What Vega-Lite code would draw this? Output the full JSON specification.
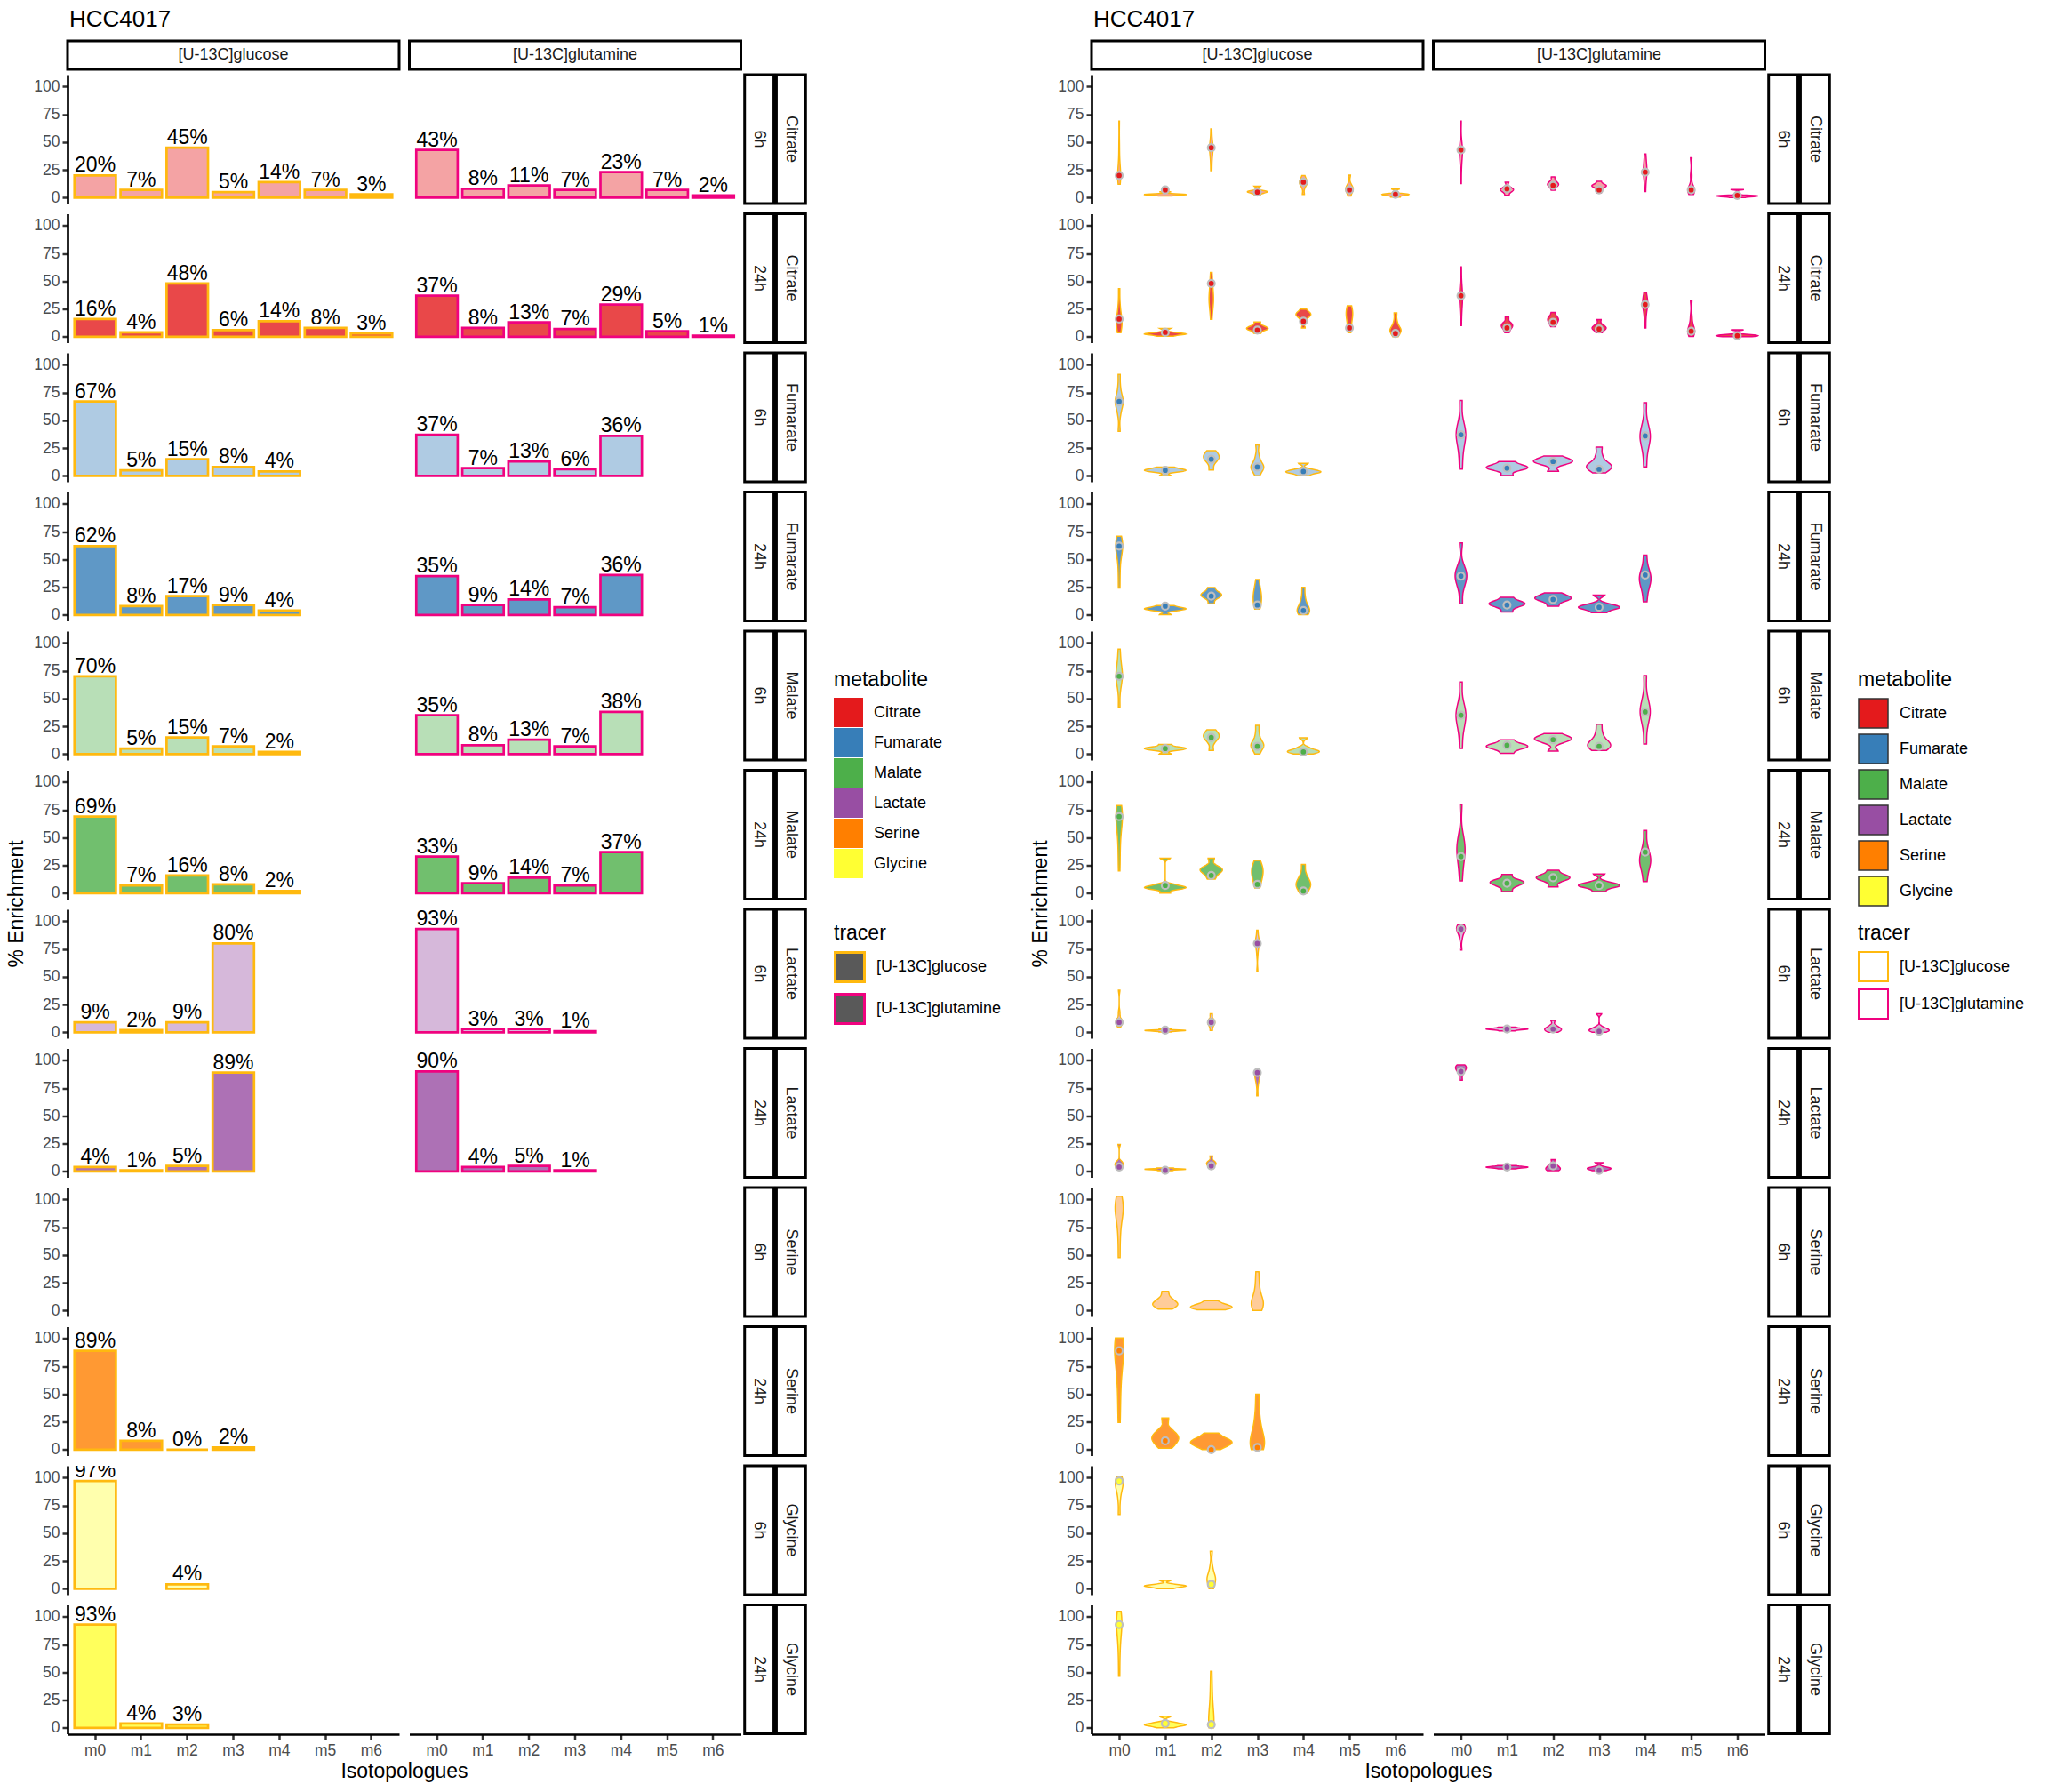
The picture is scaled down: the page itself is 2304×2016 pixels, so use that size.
{
"$schema": "https://vega.github.io/schema/vega-lite/v6.json",
"padding": {"left": 7, "top": 8, "right": 5, "bottom": 5},
"config": {
  "font": "Liberation Sans",
  "view": {"stroke": null},
  "axis": {"labelFont": "Liberation Sans", "labelFontSize": 17.5, "labelColor": "#4D4D4D", "domainColor": "#000000", "domainWidth": 2.7, "tickColor": "#333333", "tickWidth": 2.5, "tickSize": 6, "labelPadding": 3, "grid": false, "labelOverlap": false},
  "header": {"titleFont": "Liberation Sans", "titleFontSize": 23, "titleFontWeight": "normal", "titleColor": "#000000", "labelFont": "Liberation Sans"},
  "legend": {"titleFont": "Liberation Sans", "titleFontSize": 23, "titleFontWeight": "normal", "titleColor": "#000000", "labelFont": "Liberation Sans", "labelFontSize": 18, "labelColor": "#000000", "symbolType": "square", "symbolSize": 1089, "rowPadding": 1, "labelOffset": 12, "titlePadding": 8},
  "title": {"font": "Liberation Sans", "fontSize": 26, "fontWeight": "normal", "color": "#000000", "anchor": "start", "offset": 10}
},
"datasets": {
"strips": [
{"r":1,"p":"a","lab":"6h"},{"r":1,"p":"b","lab":"Citrate"},
{"r":2,"p":"a","lab":"24h"},{"r":2,"p":"b","lab":"Citrate"},
{"r":3,"p":"a","lab":"6h"},{"r":3,"p":"b","lab":"Fumarate"},
{"r":4,"p":"a","lab":"24h"},{"r":4,"p":"b","lab":"Fumarate"},
{"r":5,"p":"a","lab":"6h"},{"r":5,"p":"b","lab":"Malate"},
{"r":6,"p":"a","lab":"24h"},{"r":6,"p":"b","lab":"Malate"},
{"r":7,"p":"a","lab":"6h"},{"r":7,"p":"b","lab":"Lactate"},
{"r":8,"p":"a","lab":"24h"},{"r":8,"p":"b","lab":"Lactate"},
{"r":9,"p":"a","lab":"6h"},{"r":9,"p":"b","lab":"Serine"},
{"r":10,"p":"a","lab":"24h"},{"r":10,"p":"b","lab":"Serine"},
{"r":11,"p":"a","lab":"6h"},{"r":11,"p":"b","lab":"Glycine"},
{"r":12,"p":"a","lab":"24h"},{"r":12,"p":"b","lab":"Glycine"}
],
"d": [
{"r":1,"m":"Citrate","t":"6h","tr":"[U-13C]glucose","i":0,"v":20,"s":[12,15,18,20,21,23,27,35,48,69]},
{"r":1,"m":"Citrate","t":"6h","tr":"[U-13C]glucose","i":1,"v":7,"s":[1.3,2.2,2.6,2.8,3,3.4,5.3]},
{"r":1,"m":"Citrate","t":"6h","tr":"[U-13C]glucose","i":2,"v":45,"s":[24,33,40,43,45,47,52,62]},
{"r":1,"m":"Citrate","t":"6h","tr":"[U-13C]glucose","i":3,"v":5,"s":[1.5,4,5,5.5,6,10.5]},
{"r":1,"m":"Citrate","t":"6h","tr":"[U-13C]glucose","i":4,"v":14,"s":[2.7,9,12,13,14,15,17,20]},
{"r":1,"m":"Citrate","t":"6h","tr":"[U-13C]glucose","i":5,"v":7,"s":[1.3,5,7,8,9,12,20.5]},
{"r":1,"m":"Citrate","t":"6h","tr":"[U-13C]glucose","i":6,"v":3,"s":[0.5,2,2.7,3,3.5,8]},
{"r":1,"m":"Citrate","t":"6h","tr":"[U-13C]glutamine","i":0,"v":43,"s":[12.5,25,33,38,41,43,45,50,69]},
{"r":1,"m":"Citrate","t":"6h","tr":"[U-13C]glutamine","i":1,"v":8,"s":[2,5,6.5,7,8,9,14]},
{"r":1,"m":"Citrate","t":"6h","tr":"[U-13C]glutamine","i":2,"v":11,"s":[6.7,10,11.5,12,13,15,18.7]},
{"r":1,"m":"Citrate","t":"6h","tr":"[U-13C]glutamine","i":3,"v":7,"s":[4,8,10,10.5,11,12,14.7]},
{"r":1,"m":"Citrate","t":"6h","tr":"[U-13C]glutamine","i":4,"v":23,"s":[5.3,15,20,23,25,28,33,39.5]},
{"r":1,"m":"Citrate","t":"6h","tr":"[U-13C]glutamine","i":5,"v":7,"s":[2.7,5,6,7,8,10,20,36]},
{"r":1,"m":"Citrate","t":"6h","tr":"[U-13C]glutamine","i":6,"v":2,"s":[0,1,1.3,1.6,2,7.5]},
{"r":2,"m":"Citrate","t":"24h","tr":"[U-13C]glucose","i":0,"v":16,"s":[3.7,7,10,13,15,17,22,30,43.5]},
{"r":2,"m":"Citrate","t":"24h","tr":"[U-13C]glucose","i":1,"v":4,"s":[0.5,1.8,2.3,2.6,3,4,7.7]},
{"r":2,"m":"Citrate","t":"24h","tr":"[U-13C]glucose","i":2,"v":48,"s":[15.6,25,30,33,35,38,44,50,58]},
{"r":2,"m":"Citrate","t":"24h","tr":"[U-13C]glucose","i":3,"v":6,"s":[3,6,7,7.5,8.5,10,13.5]},
{"r":2,"m":"Citrate","t":"24h","tr":"[U-13C]glucose","i":4,"v":14,"s":[7.7,14,18,19,20,21,22,25]},
{"r":2,"m":"Citrate","t":"24h","tr":"[U-13C]glucose","i":5,"v":8,"s":[3.7,8,14,18,20,22,25,28]},
{"r":2,"m":"Citrate","t":"24h","tr":"[U-13C]glucose","i":6,"v":3,"s":[0,3,5,6,7,9,14,21.5]},
{"r":2,"m":"Citrate","t":"24h","tr":"[U-13C]glutamine","i":0,"v":37,"s":[10,22,30,34,37,40,48,63]},
{"r":2,"m":"Citrate","t":"24h","tr":"[U-13C]glutamine","i":1,"v":8,"s":[3.7,7,9,10,11,13,18]},
{"r":2,"m":"Citrate","t":"24h","tr":"[U-13C]glutamine","i":2,"v":13,"s":[9,12,14,15.5,16.5,18,22]},
{"r":2,"m":"Citrate","t":"24h","tr":"[U-13C]glutamine","i":3,"v":7,"s":[3.7,6,7.5,8,9,11,15.6]},
{"r":2,"m":"Citrate","t":"24h","tr":"[U-13C]glutamine","i":4,"v":29,"s":[7.7,18,25,28,30,32,35,40]},
{"r":2,"m":"Citrate","t":"24h","tr":"[U-13C]glutamine","i":5,"v":5,"s":[0.3,3,4.5,5.5,7,10,18,33]},
{"r":2,"m":"Citrate","t":"24h","tr":"[U-13C]glutamine","i":6,"v":1,"s":[0,0.6,1,1.3,2,6.4]},
{"r":3,"m":"Fumarate","t":"6h","tr":"[U-13C]glucose","i":0,"v":67,"s":[40,55,62,65,67,69,72,80,91.5]},
{"r":3,"m":"Fumarate","t":"6h","tr":"[U-13C]glucose","i":1,"v":5,"s":[0,3.5,4.5,5,5.5,6.5,8]},
{"r":3,"m":"Fumarate","t":"6h","tr":"[U-13C]glucose","i":2,"v":15,"s":[5.2,12,15,16.5,18,20,22.8]},
{"r":3,"m":"Fumarate","t":"6h","tr":"[U-13C]glucose","i":3,"v":8,"s":[0,5,7,8,9,12,18,28]},
{"r":3,"m":"Fumarate","t":"6h","tr":"[U-13C]glucose","i":4,"v":4,"s":[0,2.5,3.2,3.8,4.5,6,11.4]},
{"r":3,"m":"Fumarate","t":"6h","tr":"[U-13C]glutamine","i":0,"v":37,"s":[6,20,30,35,38,41,48,68]},
{"r":3,"m":"Fumarate","t":"6h","tr":"[U-13C]glutamine","i":1,"v":7,"s":[0.3,5,6.5,7.5,8.5,10,13]},
{"r":3,"m":"Fumarate","t":"6h","tr":"[U-13C]glutamine","i":2,"v":13,"s":[4,10,12,13,14,15.5,18]},
{"r":3,"m":"Fumarate","t":"6h","tr":"[U-13C]glutamine","i":3,"v":6,"s":[2.6,6,7.5,8.5,10,12,18,26]},
{"r":3,"m":"Fumarate","t":"6h","tr":"[U-13C]glutamine","i":4,"v":36,"s":[8,22,30,34,37,40,48,66]},
{"r":4,"m":"Fumarate","t":"24h","tr":"[U-13C]glucose","i":0,"v":62,"s":[24,38,50,56,60,62,64,67,71]},
{"r":4,"m":"Fumarate","t":"24h","tr":"[U-13C]glucose","i":1,"v":8,"s":[0.3,4,5,5.5,6,7,8.5]},
{"r":4,"m":"Fumarate","t":"24h","tr":"[U-13C]glucose","i":2,"v":17,"s":[10,15,17,18,19,21,24.8]},
{"r":4,"m":"Fumarate","t":"24h","tr":"[U-13C]glucose","i":3,"v":9,"s":[5.2,9,12,15,18,21,25,32]},
{"r":4,"m":"Fumarate","t":"24h","tr":"[U-13C]glucose","i":4,"v":4,"s":[0.3,2.5,3.5,4.5,6,10,16,25]},
{"r":4,"m":"Fumarate","t":"24h","tr":"[U-13C]glutamine","i":0,"v":35,"s":[10,24,30,34,36,39,44,65]},
{"r":4,"m":"Fumarate","t":"24h","tr":"[U-13C]glutamine","i":1,"v":9,"s":[2.6,7,9,10,11,12.5,16]},
{"r":4,"m":"Fumarate","t":"24h","tr":"[U-13C]glutamine","i":2,"v":14,"s":[7.8,12,14,15,16,17.5,20]},
{"r":4,"m":"Fumarate","t":"24h","tr":"[U-13C]glutamine","i":3,"v":7,"s":[2,5,6.5,7,8,10,18]},
{"r":4,"m":"Fumarate","t":"24h","tr":"[U-13C]glutamine","i":4,"v":36,"s":[11.7,22,28,31,34,37,42,54]},
{"r":5,"m":"Malate","t":"6h","tr":"[U-13C]glucose","i":0,"v":70,"s":[42,58,65,69,71,74,78,85,94.5]},
{"r":5,"m":"Malate","t":"6h","tr":"[U-13C]glucose","i":1,"v":5,"s":[0,3.5,4.5,5,5.5,6.5,8.8]},
{"r":5,"m":"Malate","t":"6h","tr":"[U-13C]glucose","i":2,"v":15,"s":[3.3,11,14,16,17,19,22]},
{"r":5,"m":"Malate","t":"6h","tr":"[U-13C]glucose","i":3,"v":7,"s":[0,5,7,8,9,12,18,26]},
{"r":5,"m":"Malate","t":"6h","tr":"[U-13C]glucose","i":4,"v":2,"s":[0,1.5,2.2,2.8,3.5,6,14.7]},
{"r":5,"m":"Malate","t":"6h","tr":"[U-13C]glutamine","i":0,"v":35,"s":[5,20,28,33,36,39,46,65]},
{"r":5,"m":"Malate","t":"6h","tr":"[U-13C]glutamine","i":1,"v":8,"s":[0.7,4.5,6,7,8,9.5,13]},
{"r":5,"m":"Malate","t":"6h","tr":"[U-13C]glutamine","i":2,"v":13,"s":[2.6,10,12.5,13.5,14.5,16,18.6]},
{"r":5,"m":"Malate","t":"6h","tr":"[U-13C]glutamine","i":3,"v":7,"s":[3.3,6,7.5,8.5,10,13,19,27]},
{"r":5,"m":"Malate","t":"6h","tr":"[U-13C]glutamine","i":4,"v":38,"s":[9,25,33,37,40,43,52,70.7]},
{"r":6,"m":"Malate","t":"24h","tr":"[U-13C]glucose","i":0,"v":69,"s":[20,35,48,58,64,68,70,72,75,79]},
{"r":6,"m":"Malate","t":"24h","tr":"[U-13C]glucose","i":1,"v":7,"s":[0,3.5,4.5,5,5.5,6.5,8,31.6]},
{"r":6,"m":"Malate","t":"24h","tr":"[U-13C]glucose","i":2,"v":16,"s":[12.7,17,19.5,21,22,24,31.6]},
{"r":6,"m":"Malate","t":"24h","tr":"[U-13C]glucose","i":3,"v":8,"s":[4.6,10,14,17,20,22,25,29.6]},
{"r":6,"m":"Malate","t":"24h","tr":"[U-13C]glucose","i":4,"v":2,"s":[0,4,6,8,10,12,17,26]},
{"r":6,"m":"Malate","t":"24h","tr":"[U-13C]glutamine","i":0,"v":33,"s":[11,24,32,37,41,45,52,80]},
{"r":6,"m":"Malate","t":"24h","tr":"[U-13C]glutamine","i":1,"v":9,"s":[1.3,6,8.5,9.5,10.5,12,17]},
{"r":6,"m":"Malate","t":"24h","tr":"[U-13C]glutamine","i":2,"v":14,"s":[5.5,11,13,14,15,17,21]},
{"r":6,"m":"Malate","t":"24h","tr":"[U-13C]glutamine","i":3,"v":7,"s":[1.3,5,6.5,7,8,10,17.6]},
{"r":6,"m":"Malate","t":"24h","tr":"[U-13C]glutamine","i":4,"v":37,"s":[10.4,20,26,29,31,35,42,56.7]},
{"r":7,"m":"Lactate","t":"6h","tr":"[U-13C]glucose","i":0,"v":9,"s":[4.7,7.5,9,9.5,10,12,18,38]},
{"r":7,"m":"Lactate","t":"6h","tr":"[U-13C]glucose","i":1,"v":2,"s":[0.2,1.2,1.5,1.7,2,3.2]},
{"r":7,"m":"Lactate","t":"6h","tr":"[U-13C]glucose","i":2,"v":9,"s":[1.6,6,8,9,10,12,16.8]},
{"r":7,"m":"Lactate","t":"6h","tr":"[U-13C]glucose","i":3,"v":80,"s":[55,70,76,79,80,81,83,86,92]},
{"r":7,"m":"Lactate","t":"6h","tr":"[U-13C]glutamine","i":0,"v":93,"s":[74,84,89,92,93,94,95,97]},
{"r":7,"m":"Lactate","t":"6h","tr":"[U-13C]glutamine","i":1,"v":3,"s":[1,2.3,2.8,3.2,3.6,4.7]},
{"r":7,"m":"Lactate","t":"6h","tr":"[U-13C]glutamine","i":2,"v":3,"s":[0,1.5,2.5,3,4,6,11]},
{"r":7,"m":"Lactate","t":"6h","tr":"[U-13C]glutamine","i":3,"v":1,"s":[0,1,1.8,2.4,3,5,16.8]},
{"r":8,"m":"Lactate","t":"24h","tr":"[U-13C]glucose","i":0,"v":4,"s":[2.2,4,5.5,6.5,7.5,9,24.4]},
{"r":8,"m":"Lactate","t":"24h","tr":"[U-13C]glucose","i":1,"v":1,"s":[0.6,1.5,1.8,2,2.3,3.2]},
{"r":8,"m":"Lactate","t":"24h","tr":"[U-13C]glucose","i":2,"v":5,"s":[2.2,5,6.5,7,8,9.5,14]},
{"r":8,"m":"Lactate","t":"24h","tr":"[U-13C]glucose","i":3,"v":89,"s":[68,78,83,85,87,88,89]},
{"r":8,"m":"Lactate","t":"24h","tr":"[U-13C]glutamine","i":0,"v":90,"s":[82,88,91,92.5,93.5,94.5,96]},
{"r":8,"m":"Lactate","t":"24h","tr":"[U-13C]glutamine","i":1,"v":4,"s":[2.2,3.2,3.7,4,4.4,5.4]},
{"r":8,"m":"Lactate","t":"24h","tr":"[U-13C]glutamine","i":2,"v":5,"s":[0.6,1.6,2.2,3,4.5,6,10.8]},
{"r":8,"m":"Lactate","t":"24h","tr":"[U-13C]glutamine","i":3,"v":1,"s":[0.6,1.8,2.5,3,4,8]},
{"r":9,"m":"Serine","t":"6h","tr":"[U-13C]glucose","i":0,"v":null,"s":[47.5,65,78,85,89,92,95,99,103]},
{"r":9,"m":"Serine","t":"6h","tr":"[U-13C]glucose","i":1,"v":null,"s":[1,3.5,5,6,7,9,12,17.4]},
{"r":9,"m":"Serine","t":"6h","tr":"[U-13C]glucose","i":2,"v":null,"s":[0.6,1.5,2.5,3.2,4,5,6.5,8.9]},
{"r":9,"m":"Serine","t":"6h","tr":"[U-13C]glucose","i":3,"v":null,"s":[0,3,5,6.5,8,11,17,25,35]},
{"r":10,"m":"Serine","t":"24h","tr":"[U-13C]glucose","i":0,"v":89,"s":[24.4,45,62,75,83,88,92,95,98,100.6]},
{"r":10,"m":"Serine","t":"24h","tr":"[U-13C]glucose","i":1,"v":8,"s":[1,5,8,10,12,14,18,28.5]},
{"r":10,"m":"Serine","t":"24h","tr":"[U-13C]glucose","i":2,"v":0,"s":[0,3,5,6,7.5,9,11,15]},
{"r":10,"m":"Serine","t":"24h","tr":"[U-13C]glucose","i":3,"v":2,"s":[0,2,4,6,9,14,22,33,50]},
{"r":11,"m":"Glycine","t":"6h","tr":"[U-13C]glucose","i":0,"v":97,"s":[66.8,80,88,92,94,96,98,100.8]},
{"r":11,"m":"Glycine","t":"6h","tr":"[U-13C]glucose","i":1,"v":null,"s":[0,1.5,2.2,2.6,3,4,7.7]},
{"r":11,"m":"Glycine","t":"6h","tr":"[U-13C]glucose","i":2,"v":4,"s":[0,4,7,9,10.5,13,20,34]},
{"r":12,"m":"Glycine","t":"24h","tr":"[U-13C]glucose","i":0,"v":93,"s":[46.5,65,78,86,91,94,97,101,105]},
{"r":12,"m":"Glycine","t":"24h","tr":"[U-13C]glucose","i":1,"v":4,"s":[0,1.8,2.5,3,3.5,5,10.6]},
{"r":12,"m":"Glycine","t":"24h","tr":"[U-13C]glucose","i":2,"v":3,"s":[0,2,4,6,9,15,25,36,51]}
]
},
"spacing": 32,
"resolve": {"scale": {"fill": "independent", "stroke": "independent", "fillOpacity": "independent"}},
"hconcat": [
{
  "title": {"text": "HCC4017", "dx": 70},
  "spacing": 2,
  "vconcat": [
    {
      "data": {"values": [{"tr": "[U-13C]glucose", "o": 1}, {"tr": "[U-13C]glutamine", "o": 1}]},
      "facet": {
        "row": {"field": "o", "type": "ordinal", "header": {"title": "%", "titleOrient": "left", "labels": false, "titleColor": "transparent", "titlePadding": -4}},
        "column": {"field": "tr", "type": "nominal", "header": {"title": null, "labels": false}}
      },
      "spacing": {"column": 11.5},
      "bounds": "flush",
      "resolve": {"scale": {"x": "independent"}},
      "spec": {
        "width": 373, "height": 32,
        "layer": [
          {"mark": {"type": "bar", "fill": "#FFFFFF", "stroke": "#000000", "strokeWidth": 3},
           "encoding": {"x": {"field": "tr", "type": "nominal", "scale": {"paddingInner": 0, "paddingOuter": 0}, "axis": null}}},
          {"mark": {"type": "text", "fontSize": 18, "color": "#1A1A1A", "baseline": "middle"},
           "encoding": {"x": {"field": "tr", "type": "nominal", "axis": null}, "text": {"field": "tr"}}},
          {"mark": {"type": "rule", "opacity": 0},
           "encoding": {"y": {"datum": 50, "type": "quantitative", "scale": {"domain": [0, 100]}, "axis": {"values": [50], "labelExpr": "'100'", "labelColor": "transparent", "tickColor": "transparent", "domain": false, "title": null}}}}
        ]
      }
    },
    {
      "spacing": 2,
      "hconcat": [
        {
          "data": {"name": "d"},
          "facet": {
            "row": {"field": "r", "type": "ordinal", "header": {"title": "% Enrichment", "titleOrient": "left", "labels": false, "titlePadding": -4}},
            "column": {"field": "tr", "type": "nominal", "header": {"title": "Isotopologues", "titleOrient": "bottom", "labels": false, "titlePadding": -6}}
          },
          "spacing": {"row": 11.5, "column": 11.5},
          "bounds": "flush",
          "spec": {
            "width": 373, "height": 145,
            "layer": [
              {"transform": [{"filter": "datum.v != null"}],
               "mark": {"type": "bar", "strokeWidth": 2.7},
               "encoding": {
                 "x": {"field": "i", "type": "ordinal", "scale": {"domain": [0,1,2,3,4,5,6], "paddingInner": 0.1, "paddingOuter": 0.15}, "axis": {"labelExpr": "'m' + datum.value", "labelAngle": 0, "title": null}},
                 "y": {"field": "v", "type": "quantitative", "scale": {"domain": [-5.3, 110.7], "nice": false, "zero": false}, "axis": {"values": [0,25,50,75,100], "tickCount": 5, "title": null}},
                 "y2": {"datum": 0},
                 "fill": {"field": "m", "type": "nominal", "scale": {"domain": ["Citrate","Fumarate","Malate","Lactate","Serine","Glycine"], "range": ["#E41A1C","#377EB8","#4DAF4A","#984EA3","#FF7F00","#FFFF33"]},
                          "legend": {"title": "metabolite", "orient": "none", "legendX": 862, "legendY": 708, "symbolStrokeColor": "transparent", "symbolStrokeWidth": 0, "symbolOpacity": 1}},
                 "fillOpacity": {"field": "t", "type": "nominal", "scale": {"domain": ["6h","24h"], "range": [0.4, 0.8]},
                          "legend": {"title": "timepoint", "orient": "none", "legendX": 862, "legendY": 1139, "symbolFillColor": "#000000", "symbolStrokeColor": "transparent", "symbolStrokeWidth": 0}},
                 "stroke": {"field": "tr", "type": "nominal", "scale": {"domain": ["[U-13C]glucose","[U-13C]glutamine"], "range": ["#FFB90F","#F0027F"]},
                          "legend": {"title": "tracer", "orient": "none", "legendX": 862, "legendY": 993, "symbolFillColor": "#595959", "symbolStrokeWidth": 3}}
               }},
              {"transform": [{"filter": "datum.v != null"}, {"calculate": "datum.v + '%'", "as": "lab"}],
               "mark": {"type": "text", "baseline": "alphabetic", "dy": -4, "fontSize": 23, "color": "#000000", "clip": true},
               "encoding": {
                 "x": {"field": "i", "type": "ordinal", "axis": {"labelExpr": "'m' + datum.value", "labelAngle": 0, "title": null}},
                 "y": {"field": "v", "type": "quantitative", "axis": {"values": [0,25,50,75,100], "tickCount": 5, "title": null}},
                 "text": {"field": "lab"}
               }}
            ]
          }
        },
        {
          "data": {"name": "strips"},
          "facet": {"row": {"field": "r", "type": "ordinal", "header": {"title": null, "labels": false}}},
          "spacing": {"row": 11.5},
          "bounds": "flush",
          "spec": {
            "width": 70, "height": 145,
            "layer": [
              {"mark": {"type": "bar", "fill": "#FFFFFF", "stroke": "#000000", "strokeWidth": 3},
               "encoding": {"x": {"field": "p", "type": "nominal", "scale": {"domain": ["a","b"], "paddingInner": 0.08, "paddingOuter": 0.02}, "axis": null}}},
              {"mark": {"type": "text", "angle": 90, "fontSize": 18, "color": "#1A1A1A", "baseline": "middle", "align": "center"},
               "encoding": {"x": {"field": "p", "type": "nominal"}, "text": {"field": "lab"}}}
            ]
          }
        }
      ]
    }
  ]
},
{
  "title": {"text": "HCC4017", "dx": 70},
  "spacing": 2,
  "vconcat": [
    {
      "data": {"values": [{"tr": "[U-13C]glucose", "o": 1}, {"tr": "[U-13C]glutamine", "o": 1}]},
      "facet": {
        "row": {"field": "o", "type": "ordinal", "header": {"title": "%", "titleOrient": "left", "labels": false, "titleColor": "transparent", "titlePadding": -4}},
        "column": {"field": "tr", "type": "nominal", "header": {"title": null, "labels": false}}
      },
      "spacing": {"column": 11.5},
      "bounds": "flush",
      "resolve": {"scale": {"x": "independent"}},
      "spec": {
        "width": 373, "height": 32,
        "layer": [
          {"mark": {"type": "bar", "fill": "#FFFFFF", "stroke": "#000000", "strokeWidth": 3},
           "encoding": {"x": {"field": "tr", "type": "nominal", "scale": {"paddingInner": 0, "paddingOuter": 0}, "axis": null}}},
          {"mark": {"type": "text", "fontSize": 18, "color": "#1A1A1A", "baseline": "middle"},
           "encoding": {"x": {"field": "tr", "type": "nominal", "axis": null}, "text": {"field": "tr"}}},
          {"mark": {"type": "rule", "opacity": 0},
           "encoding": {"y": {"datum": 50, "type": "quantitative", "scale": {"domain": [0, 100]}, "axis": {"values": [50], "labelExpr": "'100'", "labelColor": "transparent", "tickColor": "transparent", "domain": false, "title": null}}}}
        ]
      }
    },
    {
      "spacing": 2,
      "hconcat": [
        {
          "data": {"name": "d"},
          "transform": [
            {"flatten": ["s"]},
            {"joinaggregate": [{"op": "min", "field": "s", "as": "smin"}, {"op": "max", "field": "s", "as": "smax"}], "groupby": ["r","tr","i"]},
            {"density": "s", "groupby": ["r","m","t","tr","i","v","smin","smax"], "extent": [-0.5, 106], "steps": 500, "as": ["yv","dens"]},
            {"filter": "datum.yv >= datum.smin && datum.yv <= datum.smax"},
            {"joinaggregate": [{"op": "max", "field": "dens", "as": "mx"}], "groupby": ["r","tr"]},
            {"joinaggregate": [{"op": "min", "field": "yv", "as": "y0"}], "groupby": ["r","tr","i"]},
            {"calculate": "datum.i - 0.45 * datum.dens / datum.mx", "as": "lo"},
            {"calculate": "datum.i + 0.45 * datum.dens / datum.mx", "as": "hi"}
          ],
          "facet": {
            "row": {"field": "r", "type": "ordinal", "header": {"title": "% Enrichment", "titleOrient": "left", "labels": false, "titlePadding": -4}},
            "column": {"field": "tr", "type": "nominal", "header": {"title": "Isotopologues", "titleOrient": "bottom", "labels": false, "titlePadding": -6}}
          },
          "spacing": {"row": 11.5, "column": 11.5},
          "bounds": "flush",
          "spec": {
            "width": 373, "height": 145,
            "layer": [
              {"mark": {"type": "area", "orient": "horizontal", "strokeWidth": 1.5, "clip": true},
               "encoding": {
                 "y": {"field": "yv", "type": "quantitative", "scale": {"domain": [-5.3, 110.7], "nice": false, "zero": false}, "axis": {"values": [0,25,50,75,100], "tickCount": 5, "title": null}},
                 "x": {"field": "lo", "type": "quantitative", "scale": {"domain": [-0.6, 6.6], "nice": false, "zero": false}, "axis": {"values": [0,1,2,3,4,5,6], "labelExpr": "'m' + datum.value", "title": null}},
                 "x2": {"field": "hi"},
                 "detail": {"field": "i"},
                 "fill": {"field": "m", "type": "nominal", "scale": {"domain": ["Citrate","Fumarate","Malate","Lactate","Serine","Glycine"], "range": ["#E41A1C","#377EB8","#4DAF4A","#984EA3","#FF7F00","#FFFF33"]},
                          "legend": {"title": "metabolite", "orient": "none", "legendX": 862, "legendY": 708, "symbolStrokeColor": "#333333", "symbolStrokeWidth": 1.5, "symbolOpacity": 1}},
                 "fillOpacity": {"field": "t", "type": "nominal", "scale": {"domain": ["6h","24h"], "range": [0.4, 0.8]},
                          "legend": {"title": "timepoint", "orient": "none", "legendX": 862, "legendY": 1139, "symbolFillColor": "#000000", "symbolStrokeColor": "transparent", "symbolStrokeWidth": 0}},
                 "stroke": {"field": "tr", "type": "nominal", "scale": {"domain": ["[U-13C]glucose","[U-13C]glutamine"], "range": ["#FFB90F","#F0027F"]},
                          "legend": {"title": "tracer", "orient": "none", "legendX": 862, "legendY": 993, "symbolFillColor": "#FFFFFF", "symbolStrokeWidth": 2}}
               }},
              {"transform": [{"filter": "datum.v != null && datum.yv === datum.y0"}],
               "mark": {"type": "point", "filled": true, "size": 62, "stroke": "#BEBEBE", "strokeWidth": 2.2, "opacity": 1},
               "encoding": {
                 "x": {"field": "i", "type": "quantitative", "axis": {"values": [0,1,2,3,4,5,6], "labelExpr": "'m' + datum.value", "title": null}},
                 "y": {"field": "v", "type": "quantitative", "axis": {"values": [0,25,50,75,100], "tickCount": 5, "title": null}},
                 "fill": {"field": "m", "type": "nominal", "legend": null}
               }}
            ]
          }
        },
        {
          "data": {"name": "strips"},
          "facet": {"row": {"field": "r", "type": "ordinal", "header": {"title": null, "labels": false}}},
          "spacing": {"row": 11.5},
          "bounds": "flush",
          "spec": {
            "width": 70, "height": 145,
            "layer": [
              {"mark": {"type": "bar", "fill": "#FFFFFF", "stroke": "#000000", "strokeWidth": 3},
               "encoding": {"x": {"field": "p", "type": "nominal", "scale": {"domain": ["a","b"], "paddingInner": 0.08, "paddingOuter": 0.02}, "axis": null}}},
              {"mark": {"type": "text", "angle": 90, "fontSize": 18, "color": "#1A1A1A", "baseline": "middle", "align": "center"},
               "encoding": {"x": {"field": "p", "type": "nominal"}, "text": {"field": "lab"}}}
            ]
          }
        }
      ]
    }
  ]
}
]
}
